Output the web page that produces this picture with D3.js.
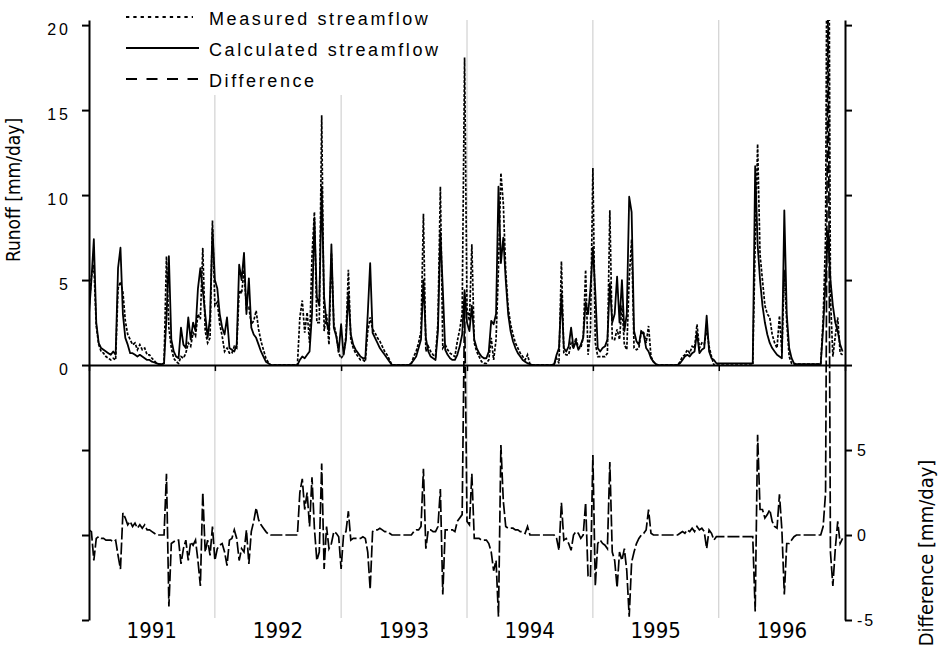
<!DOCTYPE html>
<html><head><meta charset="utf-8">
<script src="https://cdn.jsdelivr.net/npm/d3@7"></script>
<style>body{margin:0;background:#fff}</style>
</head><body>
<svg id="chart" width="939" height="655"></svg>
<script>
// ---------------- DATA (weekly values, 52 per year, 1991-1996) ----------------
const years = [1991, 1992, 1993, 1994, 1995, 1996];
const runoffTickLabels = [0, 5, 10, 15, 20];
const diffTickLabels = [-5, 0, 5];
const legendLabels = ["Measured streamflow", "Calculated streamflow", "Difference"];
const axisTitles = ["Runoff [mm/day]", "Difference [mm/day]"];

const calculated = [
  // 1991
  3.0,5.0,7.4,2.5,1.3,1.0,0.9,0.8,0.7,0.6,0.8,0.6,5.7,6.9,3.0,1.6,1.2,0.7,0.7,0.6,0.5,0.6,0.5,0.4,0.3,0.3,
  0.2,0.15,0.1,0.05,0.05,0.1,2.8,6.4,1.5,0.8,0.5,0.4,2.2,1.2,1.0,2.8,1.5,2.5,2.0,4.5,5.7,4.4,3.0,1.6,2.8,8.0,
  // 1992
  5.0,4.5,3.0,2.2,1.8,2.8,1.0,0.9,0.8,1.2,5.9,5.0,6.6,3.0,5.1,2.2,1.8,1.6,1.2,0.8,0.5,0.2,0.1,0,0,0,
  0,0,0,0,0,0,0,0,0,0.3,0.5,0.4,0.6,0.8,3.0,8.6,4.0,3.5,10.5,4.0,2.5,2.0,7.1,2.2,1.7,0.8,
  // 1993
  2.4,0.6,1.5,4.2,1.8,1.2,0.9,0.7,0.5,0.4,0.4,3.0,6.0,1.9,1.6,1.3,1.0,0.8,0.6,0.4,0.2,0,0,0,0,0,
  0,0,0,0.1,0.3,0.5,1.0,1.5,5.0,1.6,0.8,0.5,0.4,0.3,2.0,7.8,4.5,0.9,0.6,0.4,0.3,0.3,0.6,1.1,1.8,4.4,
  // 1994
  2.5,2.0,3.5,1.5,1.0,0.7,0.5,0.4,0.4,0.8,2.6,2.4,3.0,10.5,6.0,7.5,5.0,3.0,2.0,1.4,1.0,0.7,0.5,0.3,0.2,0.1,
  0.05,0,0,0,0,0,0,0,0,0,0.05,0.6,1.0,4.2,1.0,0.8,1.1,2.2,1.0,1.4,0.9,1.2,1.6,3.7,3.0,4.5,
  // 1995
  6.9,4.3,1.0,0.8,1.0,1.1,1.5,4.8,2.5,3.0,5.2,2.5,5.0,2.0,3.0,9.9,9.0,2.0,1.4,1.2,2.0,1.8,1.0,0.8,0.4,0.2,
  0.05,0,0,0,0,0,0,0,0,0,0.1,0.3,0.5,0.6,0.5,0.7,0.8,1.9,0.7,0.9,1.0,2.9,0.8,0.4,0.3,0.1,
  // 1996
  0.1,0.1,0.1,0.1,0.1,0.1,0.1,0.1,0.1,0.1,0.1,0.1,0.1,0.1,0.1,11.7,7.1,5.0,3.5,2.5,1.8,1.3,1.0,0.8,0.6,0.5,
  0.4,9.1,3.0,1.0,0.4,0.1,0.05,0.05,0.05,0.05,0.05,0.05,0.05,0.05,0.05,0.05,0.05,2.2,5.0,7.9,5.0,3.5,2.5,2.0,1.2,0.8
];

const measured = [
  // 1991
  3.3,5.2,5.9,2.3,1.2,0.8,0.7,0.5,0.4,0.3,0.4,0.3,4.5,4.9,4.3,2.6,1.8,1.5,1.2,1.3,0.9,1.2,0.9,1.0,0.6,0.6,
  0.4,0.25,0.1,0.05,0.05,0.1,6.4,2.2,1.0,0.4,0.2,0.1,0.5,0.4,0.7,1.3,1.1,1.9,1.7,3.0,2.7,6.9,2.0,1.3,1.6,8.5,
  // 1992
  3.5,3.7,2.4,1.7,0.8,1.0,0.7,0.7,1.1,1.0,4.4,4.2,5.6,3.3,3.4,2.4,2.6,3.2,2.1,1.4,0.9,0.4,0.15,0,0,0,
  0,0,0,0,0,0,0,0,0,2.8,3.8,1.9,3.1,1.3,6.4,9.0,2.5,2.5,14.7,2.0,3.0,1.2,6.6,2.4,1.8,0.7,
  // 1993
  0.4,0.6,1.7,5.6,1.5,1.0,0.7,0.5,0.3,0.3,0.2,2.0,2.8,2.1,1.9,1.6,1.4,1.1,0.8,0.6,0.3,0,0,0,0,0,
  0,0,0,0.1,0.5,0.8,1.3,2.0,8.9,0.8,1.1,0.8,0.6,0.5,2.5,10.5,1.0,1.2,0.9,0.7,0.6,0.5,1.4,2.1,3.0,18.1,
  // 1994
  3.3,2.6,7.1,1.3,0.8,0.5,0.2,0.1,0.1,0.3,1.6,0.3,1.5,5.7,11.3,9.5,5.5,3.4,2.4,1.8,1.3,1.0,0.7,0.5,0.3,0.6,
  0.05,0,0,0,0,0,0,0,0,0,0.05,0.4,0.1,6.1,0.7,0.6,0.6,1.3,1.0,1.6,1.0,1.0,1.6,5.6,0.6,2.0,
  // 1995
  11.6,1.3,0.5,0.5,0.5,0.5,0.7,9.1,1.5,1.5,2.1,1.5,3.5,1.2,0.9,5.1,7.4,1.0,0.9,1.0,2.0,1.9,1.3,2.3,0.5,0.2,
  0.05,0,0,0,0,0,0,0,0,0,0.2,0.5,0.6,0.9,0.7,1.1,1.0,2.4,1.0,1.3,1.2,2.1,1.1,0.5,0.0,0.0,
  // 1996
  0,0,0,0,0,0,0,0,0,0,0,0,0,0,0,7.2,13.0,6.5,5.0,3.5,3.0,2.8,1.8,1.3,1.0,2.9,
  0.7,5.6,2.5,0.5,0.1,0,0.05,0.05,0.05,0.05,0.05,0.05,0.05,0.05,0.05,0.05,0.05,2.7,7.5,40.0,4.0,0.5,1.7,2.8,0.7,0.6
];

const difference = [
  // 1991
  0.3,0.2,-1.5,-0.2,-0.1,-0.2,-0.2,-0.3,-0.3,-0.3,-0.4,-0.3,-1.2,-2.0,1.3,1.0,0.6,0.8,0.5,0.7,0.4,0.6,0.4,0.6,0.3,0.3,
  0.2,0.1,0,0,0,0,3.6,-4.2,-0.5,-0.4,-0.3,-0.3,-1.7,-0.8,-0.3,-1.5,-0.4,-0.6,-0.3,-1.5,-3.0,2.5,-1.0,-0.3,-1.2,0.5,
  // 1992
  -1.5,-0.8,-0.6,-0.5,-1.0,-1.8,-0.3,-0.2,0.3,-0.2,-1.5,-0.8,-1.0,0.3,-1.7,0.2,0.8,1.6,0.9,0.6,0.4,0.2,0.05,0,0,0,
  0,0,0,0,0,0,0,0,0,2.5,3.3,1.5,2.5,0.5,3.4,0.4,-1.5,-1.0,4.2,-2.0,0.5,-0.8,-0.5,0.2,0.1,-0.1,
  // 1993
  -2.0,0,0.2,1.4,-0.3,-0.2,-0.2,-0.2,-0.2,-0.1,-0.2,-1.0,-3.2,0.2,0.3,0.3,0.4,0.3,0.2,0.2,0.1,0,0,0,0,0,
  0,0,0,0,0.2,0.3,0.3,0.5,3.9,-0.8,0.3,0.3,0.2,0.2,0.5,2.7,-3.5,0.3,0.3,0.3,0.3,0.2,0.8,1.0,1.2,13.7,
  // 1994
  0.8,0.6,3.6,-0.2,-0.2,-0.2,-0.3,-0.3,-0.3,-0.5,-1.0,-2.1,-1.5,-4.8,5.3,2.0,0.5,0.4,0.4,0.4,0.3,0.3,0.2,0.2,0.1,0.5,
  0,0,0,0,0,0,0,0,0,0,0,-0.2,-0.9,1.9,-0.3,-0.2,-0.5,-0.9,0,0.2,0.1,-0.2,0,1.9,-2.4,-2.5,
  // 1995
  4.7,-3.0,-0.5,-0.3,-0.5,-0.6,-0.8,4.3,-1.0,-1.5,-3.1,-1.0,-1.5,-0.8,-2.1,-4.8,-1.6,-1.0,-0.5,-0.2,0,0.1,0.3,1.5,0.1,0,
  0,0,0,0,0,0,0,0,0,0,0.1,0.2,0.1,0.3,0.2,0.4,0.2,0.5,0.3,0.4,0.2,-0.8,0.3,0.1,-0.3,-0.1,
  // 1996
  -0.1,-0.1,-0.1,-0.1,-0.1,-0.1,-0.1,-0.1,-0.1,-0.1,-0.1,-0.1,-0.1,-0.1,-0.1,-4.5,5.9,1.5,1.5,1.0,1.2,1.5,0.8,0.5,0.4,2.4,
  0.3,-3.5,-0.5,-0.5,-0.3,-0.1,0,0,0,0,0,0,0,0,0,0,0,0.5,2.5,32.1,-1.0,-3.0,-0.8,0.8,-0.5,-0.2
];

// ---------------- LAYOUT ----------------
const W = 939, H = 655;
const L = 89, R = 845, T = 20, B = 620;
const svg = d3.select("#chart");
const labelFont = "'DejaVu Sans Condensed','DejaVu Sans',sans-serif";
const tickFont = "'Liberation Sans',Arial,sans-serif";

const x = d3.scaleTime().domain([new Date(years[0], 0, 1), new Date(years[years.length - 1] + 1, 0, 1)]).range([L, R]);
const yR = d3.scaleLinear().domain([-15, 20.3]).range([B, T]);
const yD = d3.scaleLinear().domain([-5, 30.3]).range([B, T]);

function dateAt(i) {
  const y = years[0] + Math.floor(i / 52), k = i % 52;
  const a = new Date(y, 0, 1), b = new Date(y + 1, 0, 1);
  return new Date(+a + (b - a) * k / 52);
}
const yearStarts = years.map(y => new Date(y, 0, 1)).concat([new Date(years[years.length - 1] + 1, 0, 1)]);

// year grid lines
svg.append("g").selectAll("line").data(yearStarts.slice(1, -1)).join("line")
  .attr("x1", d => x(d)).attr("x2", d => x(d)).attr("y1", T).attr("y2", 618)
  .attr("stroke", "#c8c8c8").attr("stroke-width", 1);

// clip
svg.append("clipPath").attr("id", "clip").append("rect")
  .attr("x", L).attr("y", T).attr("width", R - L).attr("height", B - T);
const plot = svg.append("g").attr("clip-path", "url(#clip)");

const lineR = d3.line().x((d, i) => x(dateAt(i))).y(d => yR(d));
const lineD = d3.line().x((d, i) => x(dateAt(i))).y(d => yD(d));

plot.append("path").datum(measured).attr("d", lineR).attr("fill", "none")
  .attr("stroke", "#000").attr("stroke-width", 1.7).attr("stroke-dasharray", "3,1.6");
plot.append("path").datum(calculated).attr("d", lineR).attr("fill", "none")
  .attr("stroke", "#000").attr("stroke-width", 1.8).attr("stroke-linejoin", "round");
plot.append("path").datum(difference).attr("d", lineD).attr("fill", "none")
  .attr("stroke", "#000").attr("stroke-width", 1.7).attr("stroke-dasharray", "12,3");

// zero / time axis
const xAxis = svg.append("g").attr("transform", `translate(0,${yR(0)})`)
  .call(d3.axisBottom(x).tickValues(yearStarts).tickSize(6).tickSizeOuter(0).tickFormat(""));
xAxis.select(".domain").attr("stroke-width", 2);
xAxis.selectAll(".tick line").attr("stroke-width", 1.5);

// left axis
const leftAxis = svg.append("g").attr("transform", `translate(${L},0)`)
  .call(d3.axisLeft(yR).tickValues([-15, -10, -5, 0, 5, 10, 15, 20]).tickSize(7).tickSizeOuter(0)
    .tickFormat(d => runoffTickLabels.includes(d) ? d : ""));
leftAxis.select(".domain").attr("stroke-width", 2);
leftAxis.selectAll(".tick line").attr("stroke-width", 2);
leftAxis.selectAll(".tick text").attr("x", -18).attr("dy", "0.6em")
  .style("font-family", tickFont).style("font-size", "16px").style("letter-spacing", "3px").attr("fill", "#000");

// right axis
const rightAxis = svg.append("g").attr("transform", `translate(${R},0)`)
  .call(d3.axisRight(yD).tickValues([-5, 0, 5, 10, 15, 20, 25, 30]).tickSize(7).tickSizeOuter(0)
    .tickFormat(d => diffTickLabels.includes(d) ? d : ""));
rightAxis.select(".domain").attr("stroke-width", 2);
rightAxis.selectAll(".tick line").attr("stroke-width", 2);
rightAxis.selectAll(".tick text").attr("x", 12).attr("dy", "0.35em")
  .style("font-family", tickFont).style("font-size", "16px").style("letter-spacing", "2px").attr("fill", "#000");

// year labels
svg.append("g").selectAll("text").data(years).join("text")
  .attr("x", d => x(new Date(d, 6, 2))).attr("y", 638)
  .attr("text-anchor", "middle").style("font-family", labelFont).style("font-stretch", "condensed")
  .style("font-size", "22px").text(d => d);

// axis titles
svg.append("text").attr("transform", "translate(20,190) rotate(-90)").attr("text-anchor", "middle")
  .style("font-family", labelFont).style("font-stretch", "condensed").style("font-size", "19px").text(axisTitles[0]);
svg.append("text").attr("transform", "translate(933,553) rotate(-90)").attr("text-anchor", "middle")
  .style("font-family", labelFont).style("font-stretch", "condensed").style("font-size", "20px").text(axisTitles[1]);

// legend
const leg = svg.append("g");
leg.append("rect").attr("x", 110).attr("y", 0).attr("width", 335).attr("height", 95).attr("fill", "#fff");
const legStyles = [
  {dash: "3.3,4", x2: 193},
  {dash: null, x2: 199},
  {dash: "11,9.5", x2: 198}
];
legendLabels.forEach((lab, i) => {
  const ly = 17 + i * 31;
  const ln = leg.append("line").attr("x1", 126).attr("x2", legStyles[i].x2).attr("y1", ly).attr("y2", ly)
    .attr("stroke", "#000").attr("stroke-width", 2);
  if (legStyles[i].dash) ln.attr("stroke-dasharray", legStyles[i].dash);
  leg.append("text").attr("x", 209).attr("y", ly + 8)
    .style("font-family", tickFont).style("font-size", "18px").style("letter-spacing", "2.6px").text(lab);
});
</script>
</body></html>
